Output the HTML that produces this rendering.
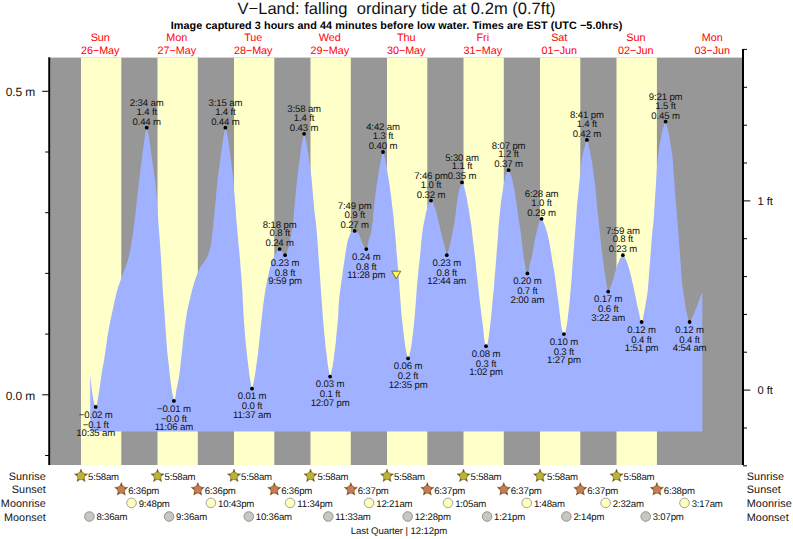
<!DOCTYPE html>
<html><head><meta charset="utf-8"><title>V-Land tide</title>
<style>
html,body{margin:0;padding:0;background:#fff;}
svg{display:block;}
text{font-family:"Liberation Sans",Arial,Helvetica,sans-serif;text-rendering:geometricPrecision;}
.t{font-size:9.6px;letter-spacing:-0.14px;fill:#111;text-anchor:middle;}
.s{font-size:9.6px;letter-spacing:-0.18px;fill:#111;}
.a{font-size:12px;letter-spacing:-0.12px;fill:#111;}
.r{font-size:10.8px;letter-spacing:0.08px;fill:#111;}
.d{font-size:10.8px;letter-spacing:-0.04px;fill:#ff0000;text-anchor:middle;}
</style></head><body>
<svg width="793" height="539" viewBox="0 0 793 539">
<rect width="793" height="539" fill="#fff"/>

<rect x="50" y="57.6" width="692" height="407.4" fill="#979797"/>
<rect x="81.0" y="57.6" width="40.3" height="407.4" fill="#ffffca"/>
<rect x="157.5" y="57.6" width="40.3" height="407.4" fill="#ffffca"/>
<rect x="234.0" y="57.6" width="40.3" height="407.4" fill="#ffffca"/>
<rect x="310.5" y="57.6" width="40.3" height="407.4" fill="#ffffca"/>
<rect x="387.0" y="57.6" width="40.3" height="407.4" fill="#ffffca"/>
<rect x="463.5" y="57.6" width="40.3" height="407.4" fill="#ffffca"/>
<rect x="540.0" y="57.6" width="40.3" height="407.4" fill="#ffffca"/>
<rect x="616.5" y="57.6" width="40.4" height="407.4" fill="#ffffca"/>
<polygon points="90.2,431.4 90.2,374.0 90.6,378.2 91.0,382.2 91.3,385.8 91.7,389.0 92.1,391.9 92.5,394.4 92.9,396.8 93.3,398.8 93.6,400.7 94.0,402.3 94.4,403.7 94.8,404.9 95.2,406.1 95.6,406.8 95.9,406.8 96.3,405.9 96.7,404.6 97.1,403.1 97.5,401.1 97.9,398.9 98.2,396.8 98.6,394.4 99.0,392.0 99.4,389.5 99.8,386.8 100.2,384.1 100.5,381.5 100.9,378.8 101.3,376.1 101.7,373.6 102.1,371.2 102.4,369.0 102.8,366.9 103.2,364.8 103.6,362.7 104.0,360.4 104.4,358.0 104.7,355.5 105.1,352.9 105.5,350.3 105.9,347.6 106.3,345.0 106.7,342.4 107.0,339.8 107.4,337.2 107.8,334.7 108.2,332.2 108.6,330.0 109.0,327.9 109.3,325.9 109.7,324.0 110.1,322.1 110.5,320.2 110.9,318.4 111.3,316.6 111.6,314.8 112.0,313.0 112.4,311.2 112.8,309.5 113.2,307.8 113.6,306.0 113.9,304.2 114.3,302.5 114.7,300.7 115.1,299.0 115.5,297.3 115.8,295.7 116.2,294.1 116.6,292.6 117.0,291.1 117.4,289.8 117.8,288.5 118.1,287.3 118.5,286.1 118.9,285.0 119.3,283.9 119.7,282.8 120.1,281.8 120.4,280.8 120.8,279.7 121.2,278.7 121.6,277.7 122.0,276.6 122.4,275.5 122.7,274.5 123.1,273.5 123.5,272.5 123.9,271.5 124.3,270.5 124.7,269.5 125.0,268.5 125.4,267.5 125.8,266.5 126.2,265.4 126.6,264.3 126.9,263.2 127.3,261.9 127.7,260.7 128.1,259.3 128.5,257.9 128.9,256.3 129.2,254.6 129.6,252.8 130.0,251.0 130.4,249.0 130.8,247.0 131.2,244.9 131.5,242.6 131.9,240.2 132.3,237.6 132.7,234.9 133.1,232.2 133.5,229.3 133.8,226.4 134.2,223.4 134.6,220.3 135.0,217.0 135.4,213.7 135.8,210.3 136.1,206.9 136.5,203.5 136.9,200.0 137.3,196.6 137.7,193.1 138.1,189.7 138.4,186.4 138.8,183.1 139.2,179.9 139.6,176.8 140.0,173.7 140.3,170.6 140.7,167.6 141.1,164.6 141.5,161.6 141.9,158.7 142.3,155.8 142.6,152.8 143.0,149.8 143.4,146.9 143.8,144.1 144.2,141.4 144.6,138.7 144.9,135.9 145.3,133.2 145.7,131.1 146.1,129.2 146.5,127.9 146.9,127.9 147.2,129.1 147.6,130.9 148.0,132.7 148.4,134.5 148.8,136.5 149.2,138.7 149.5,141.0 149.9,143.6 150.3,146.2 150.7,149.2 151.1,152.2 151.4,155.0 151.8,157.6 152.2,160.0 152.6,162.5 153.0,165.2 153.4,168.0 153.7,170.9 154.1,173.7 154.5,176.5 154.9,179.1 155.3,182.3 155.7,186.1 156.0,190.4 156.4,195.0 156.8,200.0 157.2,205.2 157.6,210.6 158.0,216.0 158.3,221.3 158.7,226.6 159.1,231.7 159.5,236.8 159.9,241.9 160.3,247.3 160.6,252.8 161.0,258.8 161.4,265.4 161.8,272.3 162.2,279.2 162.5,285.7 162.9,291.7 163.3,297.0 163.7,302.0 164.1,307.0 164.5,312.1 164.8,317.6 165.2,323.4 165.6,329.2 166.0,334.8 166.4,340.5 166.8,345.9 167.1,350.5 167.5,354.3 167.9,357.7 168.3,361.0 168.7,364.3 169.1,367.4 169.4,370.8 169.8,374.4 170.2,378.0 170.6,381.3 171.0,384.4 171.4,387.2 171.7,389.8 172.1,392.1 172.5,394.0 172.9,395.9 173.3,398.1 173.7,400.4 174.0,400.8 174.4,400.3 174.8,399.5 175.2,398.0 175.6,396.0 175.9,393.3 176.3,390.6 176.7,388.4 177.1,386.5 177.5,384.6 177.9,382.7 178.2,380.9 178.6,379.1 179.0,376.9 179.4,374.2 179.8,371.1 180.2,367.9 180.5,364.5 180.9,360.8 181.3,357.3 181.7,353.8 182.1,350.3 182.5,346.7 182.8,343.1 183.2,339.6 183.6,336.1 184.0,332.9 184.4,329.9 184.8,327.0 185.1,324.2 185.5,321.4 185.9,318.9 186.3,316.4 186.7,314.2 187.0,312.1 187.4,310.1 187.8,308.2 188.2,306.4 188.6,304.7 189.0,303.0 189.3,301.3 189.7,299.7 190.1,298.2 190.5,296.6 190.9,295.0 191.3,293.5 191.6,292.0 192.0,290.5 192.4,289.0 192.8,287.6 193.2,286.2 193.6,284.9 193.9,283.5 194.3,282.3 194.7,281.1 195.1,279.9 195.5,278.8 195.9,277.8 196.2,276.7 196.6,275.7 197.0,274.7 197.4,273.7 197.8,272.8 198.2,271.9 198.5,271.0 198.9,270.2 199.3,269.4 199.7,268.6 200.1,267.8 200.4,267.1 200.8,266.5 201.2,265.8 201.6,265.3 202.0,264.7 202.4,264.2 202.7,263.7 203.1,263.2 203.5,262.7 203.9,262.2 204.3,261.8 204.7,261.2 205.0,260.7 205.4,260.1 205.8,259.5 206.2,258.9 206.6,258.2 207.0,257.4 207.3,256.6 207.7,255.7 208.1,254.7 208.5,253.7 208.9,252.6 209.3,251.4 209.6,250.1 210.0,248.6 210.4,247.0 210.8,245.3 211.2,243.1 211.5,240.2 211.9,236.9 212.3,233.4 212.7,229.9 213.1,226.5 213.5,222.9 213.8,219.1 214.2,215.2 214.6,211.2 215.0,207.1 215.4,203.0 215.8,198.9 216.1,194.8 216.5,190.8 216.9,186.9 217.3,183.2 217.7,179.6 218.1,176.2 218.4,173.1 218.8,170.2 219.2,167.5 219.6,164.7 220.0,161.8 220.4,158.9 220.7,155.9 221.1,153.1 221.5,150.3 221.9,147.7 222.3,145.1 222.6,142.5 223.0,140.1 223.4,137.7 223.8,135.2 224.2,132.8 224.6,130.8 224.9,128.7 225.3,127.7 225.7,128.3 226.1,129.8 226.5,131.7 226.9,133.3 227.2,135.0 227.6,136.9 228.0,139.1 228.4,141.7 228.8,144.6 229.2,147.3 229.5,150.0 229.9,152.7 230.3,155.5 230.7,158.4 231.1,161.3 231.5,164.3 231.8,167.2 232.2,170.1 232.6,173.2 233.0,176.8 233.4,180.7 233.8,185.0 234.1,189.6 234.5,194.5 234.9,199.4 235.3,204.5 235.7,209.6 236.0,214.7 236.4,219.6 236.8,224.4 237.2,229.0 237.6,233.2 238.0,237.4 238.3,241.4 238.7,245.5 239.1,249.7 239.5,254.0 239.9,258.6 240.3,263.3 240.6,268.0 241.0,273.0 241.4,278.1 241.8,283.5 242.2,289.3 242.6,295.8 242.9,303.2 243.3,310.5 243.7,317.1 244.1,322.6 244.5,327.8 244.9,332.7 245.2,337.2 245.6,341.5 246.0,345.4 246.4,349.1 246.8,352.6 247.1,355.9 247.5,359.1 247.9,362.3 248.3,365.6 248.7,368.9 249.1,371.8 249.4,374.7 249.8,377.4 250.2,379.9 250.6,382.1 251.0,384.1 251.4,386.0 251.7,388.1 252.1,388.7 252.5,387.4 252.9,385.4 253.3,383.7 253.7,382.0 254.0,380.2 254.4,378.1 254.8,375.8 255.2,373.4 255.6,370.8 256.0,368.1 256.3,365.3 256.7,362.5 257.1,359.7 257.5,357.0 257.9,354.3 258.2,351.4 258.6,348.0 259.0,344.0 259.4,340.0 259.8,336.2 260.2,332.5 260.5,328.8 260.9,325.2 261.3,321.7 261.7,318.2 262.1,314.8 262.5,311.4 262.8,308.1 263.2,304.9 263.6,301.9 264.0,299.2 264.4,296.5 264.8,294.0 265.1,291.5 265.5,289.2 265.9,286.9 266.3,284.8 266.7,282.7 267.1,280.8 267.4,278.9 267.8,277.2 268.2,275.4 268.6,273.7 269.0,272.1 269.4,270.6 269.7,269.1 270.1,267.6 270.5,266.3 270.9,265.0 271.3,263.8 271.6,262.7 272.0,261.6 272.4,260.6 272.8,259.7 273.2,258.8 273.6,257.9 273.9,257.1 274.3,256.3 274.7,255.5 275.1,254.7 275.5,254.0 275.9,253.3 276.2,252.6 276.6,252.0 277.0,251.4 277.4,250.8 277.8,250.3 278.2,249.9 278.5,249.5 278.9,249.3 279.3,249.2 279.7,249.1 280.1,249.2 280.5,249.4 280.8,249.8 281.2,250.2 281.6,250.8 282.0,251.4 282.4,252.1 282.7,252.8 283.1,253.4 283.5,254.0 283.9,254.5 284.3,254.9 284.7,255.1 285.0,255.2 285.4,255.1 285.8,254.7 286.2,254.3 286.6,253.7 287.0,252.9 287.3,251.8 287.7,250.5 288.1,249.1 288.5,247.4 288.9,245.6 289.3,243.7 289.6,241.9 290.0,240.1 290.4,238.2 290.8,236.3 291.2,234.3 291.6,232.3 291.9,230.4 292.3,228.2 292.7,225.4 293.1,221.9 293.5,217.8 293.9,213.4 294.2,209.0 294.6,204.8 295.0,200.9 295.4,197.0 295.8,193.0 296.1,189.2 296.5,185.4 296.9,181.7 297.3,178.2 297.7,174.8 298.1,171.5 298.4,168.4 298.8,165.3 299.2,162.4 299.6,159.5 300.0,156.7 300.4,153.9 300.7,151.2 301.1,148.3 301.5,145.6 301.9,143.4 302.3,141.5 302.7,139.8 303.0,138.1 303.4,136.2 303.8,134.4 304.2,133.8 304.6,134.6 305.0,136.2 305.3,138.0 305.7,139.8 306.1,141.7 306.5,143.8 306.9,145.8 307.2,147.8 307.6,149.9 308.0,152.2 308.4,154.8 308.8,157.4 309.2,160.1 309.5,162.8 309.9,165.4 310.3,168.2 310.7,171.2 311.1,174.3 311.5,177.7 311.8,181.4 312.2,185.8 312.6,190.6 313.0,195.5 313.4,200.2 313.8,204.5 314.1,208.3 314.5,211.7 314.9,214.9 315.3,218.0 315.7,221.1 316.1,224.5 316.4,228.3 316.8,232.6 317.2,237.4 317.6,242.6 318.0,247.9 318.3,253.2 318.7,258.5 319.1,263.9 319.5,269.5 319.9,275.1 320.3,280.6 320.6,286.1 321.0,291.5 321.4,296.9 321.8,302.3 322.2,307.6 322.6,312.7 322.9,317.5 323.3,322.2 323.7,326.7 324.1,331.0 324.5,335.2 324.9,339.2 325.2,343.0 325.6,346.5 326.0,349.9 326.4,353.1 326.8,356.2 327.2,359.3 327.5,362.4 327.9,365.3 328.3,367.7 328.7,370.0 329.1,372.0 329.5,374.1 329.8,376.0 330.2,376.5 330.6,375.4 331.0,373.5 331.4,371.6 331.7,370.0 332.1,368.4 332.5,366.5 332.9,364.3 333.3,361.7 333.7,358.9 334.0,356.0 334.4,353.2 334.8,350.3 335.2,347.2 335.6,343.8 336.0,339.8 336.3,335.8 336.7,331.9 337.1,328.1 337.5,324.0 337.9,319.6 338.3,314.0 338.6,306.9 339.0,300.8 339.4,296.6 339.8,293.2 340.2,290.2 340.6,287.4 340.9,284.9 341.3,282.3 341.7,279.6 342.1,276.8 342.5,273.9 342.8,271.1 343.2,268.3 343.6,265.6 344.0,262.9 344.4,260.4 344.8,257.9 345.1,255.4 345.5,253.0 345.9,250.5 346.3,248.1 346.7,245.8 347.1,243.7 347.4,241.8 347.8,240.3 348.2,239.1 348.6,238.0 349.0,236.9 349.4,236.0 349.7,235.1 350.1,234.3 350.5,233.6 350.9,233.0 351.3,232.5 351.7,232.2 352.0,231.9 352.4,231.6 352.8,231.4 353.2,231.2 353.6,231.1 354.0,231.0 354.3,230.9 354.7,230.9 355.1,231.0 355.5,231.1 355.9,231.2 356.2,231.4 356.6,231.6 357.0,232.0 357.4,232.4 357.8,232.8 358.2,233.3 358.5,233.8 358.9,234.4 359.3,235.1 359.7,235.9 360.1,236.9 360.5,237.9 360.8,239.0 361.2,240.1 361.6,241.2 362.0,242.2 362.4,243.1 362.8,244.0 363.1,244.9 363.5,245.7 363.9,246.5 364.3,247.2 364.7,247.8 365.1,248.3 365.4,248.6 365.8,248.9 366.2,249.1 366.6,248.9 367.0,248.3 367.3,247.3 367.7,245.6 368.1,243.2 368.5,241.1 368.9,239.6 369.3,238.5 369.6,237.4 370.0,236.4 370.4,235.1 370.8,233.6 371.2,231.8 371.6,229.9 371.9,227.6 372.3,224.8 372.7,221.5 373.1,216.3 373.5,212.1 373.9,208.3 374.2,204.8 374.6,201.5 375.0,198.3 375.4,195.1 375.8,192.0 376.2,189.1 376.5,186.3 376.9,183.8 377.3,181.4 377.7,179.1 378.1,176.7 378.4,174.3 378.8,171.9 379.2,169.5 379.6,167.1 380.0,164.7 380.4,162.6 380.7,160.8 381.1,159.1 381.5,157.6 381.9,155.9 382.3,154.1 382.7,152.5 383.0,152.0 383.4,152.7 383.8,154.0 384.2,155.6 384.6,157.1 385.0,158.6 385.3,160.2 385.7,162.0 386.1,164.1 386.5,166.4 386.9,168.8 387.3,171.1 387.6,173.3 388.0,175.5 388.4,177.8 388.8,180.1 389.2,182.4 389.6,184.9 389.9,187.5 390.3,190.4 390.7,193.4 391.1,196.5 391.5,199.6 391.8,202.8 392.2,206.0 392.6,209.3 393.0,212.6 393.4,216.1 393.8,219.7 394.1,223.4 394.5,227.2 394.9,231.3 395.3,235.7 395.7,240.3 396.1,245.1 396.4,249.9 396.8,254.5 397.2,259.0 397.6,263.4 398.0,267.9 398.4,272.5 398.7,277.2 399.1,282.1 399.5,287.5 399.9,293.2 400.3,298.9 400.7,304.3 401.0,309.2 401.4,313.5 401.8,317.4 402.2,321.0 402.6,324.3 402.9,327.5 403.3,330.7 403.7,334.0 404.1,337.4 404.5,340.5 404.9,343.2 405.2,345.8 405.6,348.2 406.0,350.4 406.4,352.5 406.8,354.3 407.2,355.8 407.5,357.3 407.9,358.2 408.3,358.2 408.7,357.4 409.1,356.1 409.5,354.7 409.8,353.3 410.2,351.6 410.6,349.8 411.0,347.6 411.4,345.1 411.8,342.4 412.1,339.6 412.5,336.8 412.9,333.8 413.3,330.5 413.7,326.9 414.1,322.9 414.4,318.8 414.8,314.5 415.2,310.0 415.6,305.2 416.0,300.0 416.3,294.8 416.7,289.6 417.1,284.7 417.5,280.2 417.9,276.2 418.3,272.4 418.6,268.8 419.0,265.2 419.4,261.7 419.8,258.0 420.2,254.2 420.6,250.2 420.9,246.1 421.3,242.0 421.7,238.1 422.1,234.5 422.5,231.3 422.9,228.6 423.2,226.3 423.6,224.2 424.0,222.3 424.4,220.4 424.8,218.6 425.2,216.7 425.5,214.8 425.9,213.0 426.3,211.3 426.7,209.8 427.1,208.5 427.4,207.4 427.8,206.4 428.2,205.5 428.6,204.6 429.0,203.6 429.4,202.5 429.7,201.7 430.1,201.1 430.5,200.8 430.9,200.6 431.3,200.6 431.7,200.9 432.0,201.2 432.4,201.8 432.8,202.6 433.2,203.5 433.6,204.5 434.0,205.5 434.3,206.4 434.7,207.4 435.1,208.4 435.5,209.4 435.9,210.6 436.3,211.9 436.6,213.5 437.0,215.1 437.4,216.8 437.8,218.5 438.2,220.2 438.5,221.8 438.9,223.4 439.3,225.1 439.7,226.7 440.1,228.2 440.5,229.8 440.8,231.4 441.2,232.9 441.6,234.4 442.0,236.0 442.4,237.5 442.8,239.0 443.1,240.5 443.5,242.0 443.9,243.5 444.3,245.0 444.7,246.5 445.1,248.1 445.4,249.6 445.8,251.2 446.2,253.0 446.6,254.7 447.0,255.1 447.4,254.3 447.7,252.9 448.1,251.6 448.5,250.3 448.9,249.0 449.3,247.5 449.7,246.0 450.0,244.4 450.4,242.8 450.8,241.0 451.2,239.2 451.6,237.3 451.9,235.5 452.3,233.5 452.7,231.5 453.1,229.5 453.5,227.9 453.9,226.3 454.2,224.1 454.6,221.1 455.0,218.0 455.4,215.0 455.8,212.0 456.2,209.0 456.5,206.0 456.9,202.9 457.3,200.0 457.7,197.5 458.1,195.3 458.5,193.3 458.8,191.5 459.2,189.9 459.6,188.6 460.0,187.5 460.4,186.5 460.8,185.6 461.1,184.5 461.5,183.2 461.9,182.4 462.3,182.4 462.7,182.8 463.0,183.4 463.4,184.3 463.8,185.5 464.2,186.9 464.6,188.4 465.0,189.9 465.3,191.5 465.7,193.2 466.1,194.9 466.5,196.8 466.9,198.8 467.3,200.9 467.6,203.0 468.0,205.2 468.4,207.4 468.8,209.7 469.2,212.1 469.6,214.5 469.9,216.9 470.3,219.3 470.7,221.7 471.1,224.2 471.5,227.1 471.9,230.3 472.2,233.6 472.6,237.0 473.0,240.3 473.4,243.4 473.8,246.4 474.2,249.4 474.5,252.5 474.9,255.7 475.3,259.2 475.7,262.9 476.1,266.7 476.4,270.4 476.8,274.0 477.2,277.6 477.6,281.1 478.0,284.6 478.4,288.1 478.7,291.6 479.1,295.1 479.5,298.6 479.9,302.0 480.3,305.4 480.7,308.6 481.0,311.8 481.4,314.9 481.8,317.9 482.2,320.8 482.6,323.5 483.0,326.4 483.3,329.5 483.7,333.3 484.1,337.5 484.5,340.6 484.9,343.1 485.3,344.7 485.6,345.7 486.0,346.2 486.4,346.0 486.8,345.4 487.2,344.5 487.5,343.4 487.9,341.7 488.3,339.6 488.7,337.2 489.1,334.3 489.5,331.1 489.8,328.0 490.2,324.9 490.6,321.5 491.0,318.0 491.4,313.9 491.8,309.4 492.1,305.2 492.5,301.2 492.9,297.4 493.3,293.6 493.7,289.5 494.1,285.1 494.4,280.6 494.8,276.0 495.2,271.2 495.6,266.2 496.0,261.1 496.4,256.2 496.7,251.5 497.1,247.0 497.5,242.2 497.9,237.0 498.3,231.0 498.6,225.6 499.0,221.4 499.4,217.7 499.8,214.0 500.2,210.2 500.6,206.4 500.9,202.9 501.3,199.8 501.7,197.2 502.1,194.8 502.5,192.6 502.9,190.2 503.2,187.7 503.6,185.3 504.0,182.9 504.4,181.0 504.8,179.2 505.2,177.6 505.5,176.1 505.9,174.9 506.3,173.9 506.7,173.0 507.1,172.2 507.5,171.6 507.8,170.9 508.2,170.4 508.6,170.2 509.0,170.6 509.4,171.4 509.8,172.4 510.1,173.3 510.5,174.3 510.9,175.2 511.3,176.3 511.7,177.5 512.0,178.9 512.4,180.5 512.8,182.2 513.2,184.0 513.6,185.9 514.0,187.8 514.3,189.9 514.7,192.1 515.1,194.4 515.5,196.9 515.9,199.5 516.3,202.2 516.6,204.9 517.0,207.6 517.4,210.2 517.8,212.9 518.2,215.5 518.6,217.9 518.9,220.3 519.3,222.8 519.7,225.5 520.1,228.2 520.5,230.9 520.9,233.7 521.2,236.6 521.6,239.6 522.0,242.6 522.4,246.0 522.8,249.4 523.1,252.7 523.5,255.8 523.9,258.4 524.3,260.6 524.7,262.7 525.1,264.9 525.4,267.3 525.8,269.6 526.2,271.3 526.6,272.4 527.0,273.1 527.4,273.4 527.7,273.1 528.1,272.4 528.5,271.1 528.9,269.2 529.3,266.5 529.7,264.4 530.0,262.9 530.4,261.6 530.8,260.4 531.2,259.3 531.6,257.9 532.0,256.3 532.3,254.4 532.7,252.1 533.1,249.8 533.5,247.4 533.9,245.0 534.3,242.8 534.6,240.8 535.0,239.0 535.4,237.3 535.8,235.7 536.2,234.1 536.5,232.6 536.9,231.1 537.3,229.6 537.7,228.1 538.1,226.6 538.5,225.0 538.8,223.6 539.2,222.3 539.6,221.3 540.0,220.4 540.4,219.7 540.8,219.3 541.1,219.0 541.5,218.8 541.9,219.0 542.3,219.6 542.7,220.5 543.1,221.3 543.4,222.1 543.8,223.0 544.2,223.9 544.6,224.8 545.0,225.8 545.4,226.9 545.7,228.0 546.1,229.2 546.5,230.4 546.9,231.7 547.3,233.1 547.6,234.6 548.0,236.3 548.4,237.9 548.8,239.7 549.2,241.6 549.6,243.5 549.9,245.6 550.3,247.9 550.7,250.3 551.1,252.8 551.5,255.4 551.9,257.9 552.2,260.3 552.6,262.5 553.0,264.7 553.4,266.8 553.8,269.0 554.2,271.2 554.5,273.6 554.9,276.1 555.3,278.9 555.7,281.9 556.1,284.9 556.5,287.9 556.8,290.9 557.2,293.6 557.6,296.3 558.0,299.0 558.4,301.8 558.7,304.7 559.1,307.9 559.5,311.5 559.9,315.0 560.3,318.3 560.7,321.6 561.0,324.5 561.4,326.8 561.8,329.0 562.2,330.8 562.6,332.0 563.0,332.9 563.3,333.7 563.7,334.1 564.1,334.0 564.5,333.6 564.9,332.9 565.3,332.0 565.6,330.9 566.0,329.2 566.4,327.2 566.8,325.0 567.2,322.5 567.6,319.5 567.9,316.4 568.3,313.1 568.7,309.7 569.1,306.0 569.5,302.4 569.9,298.6 570.2,294.6 570.6,290.4 571.0,285.8 571.4,280.9 571.8,275.8 572.1,270.5 572.5,265.0 572.9,259.8 573.3,255.2 573.7,250.8 574.1,246.3 574.4,241.3 574.8,236.1 575.2,230.8 575.6,225.5 576.0,220.2 576.4,214.7 576.7,209.5 577.1,204.7 577.5,200.5 577.9,196.7 578.3,193.0 578.7,189.3 579.0,185.6 579.4,181.7 579.8,177.8 580.2,174.1 580.6,170.4 581.0,166.9 581.3,163.8 581.7,160.9 582.1,158.3 582.5,156.0 582.9,154.1 583.2,152.3 583.6,150.7 584.0,149.3 584.4,148.1 584.8,146.9 585.2,145.5 585.5,143.4 585.9,141.7 586.3,140.5 586.7,140.0 587.1,139.9 587.5,140.4 587.8,141.5 588.2,143.2 588.6,145.3 589.0,147.1 589.4,148.7 589.8,150.3 590.1,152.1 590.5,154.1 590.9,156.3 591.3,158.5 591.7,160.7 592.1,163.0 592.4,165.3 592.8,167.8 593.2,170.6 593.6,173.5 594.0,176.4 594.3,179.2 594.7,182.0 595.1,185.1 595.5,188.8 595.9,192.8 596.3,197.1 596.6,201.3 597.0,205.3 597.4,209.0 597.8,212.6 598.2,216.2 598.6,219.9 598.9,223.8 599.3,227.8 599.7,231.8 600.1,235.5 600.5,239.1 600.9,242.4 601.2,245.7 601.6,248.9 602.0,252.0 602.4,255.0 602.8,258.0 603.2,261.1 603.5,264.3 603.9,267.4 604.3,270.2 604.7,272.7 605.1,275.0 605.5,277.2 605.8,279.4 606.2,281.8 606.6,284.5 607.0,287.0 607.4,288.9 607.7,290.5 608.1,291.6 608.5,291.4 608.9,290.7 609.3,289.9 609.7,289.1 610.0,288.2 610.4,287.2 610.8,286.2 611.2,285.2 611.6,284.1 612.0,283.0 612.3,281.9 612.7,280.7 613.1,279.5 613.5,278.2 613.9,276.9 614.3,275.5 614.6,274.0 615.0,272.6 615.4,271.2 615.8,269.8 616.2,268.6 616.6,267.3 616.9,266.1 617.3,265.0 617.7,264.0 618.1,263.1 618.5,262.3 618.8,261.4 619.2,260.5 619.6,259.6 620.0,258.8 620.4,258.0 620.8,257.4 621.1,256.8 621.5,256.3 621.9,255.9 622.3,255.5 622.7,255.3 623.1,255.2 623.4,255.5 623.8,256.1 624.2,256.6 624.6,257.2 625.0,258.0 625.4,258.7 625.7,259.5 626.1,260.2 626.5,261.0 626.9,262.0 627.3,263.0 627.7,264.1 628.0,265.2 628.4,266.5 628.8,267.7 629.2,269.0 629.6,270.4 630.0,271.8 630.3,273.3 630.7,274.8 631.1,276.4 631.5,278.0 631.9,279.7 632.2,281.4 632.6,283.1 633.0,284.7 633.4,286.4 633.8,288.1 634.2,289.9 634.5,291.6 634.9,293.4 635.3,295.2 635.7,297.2 636.1,299.1 636.5,301.2 636.8,303.1 637.2,305.0 637.6,306.8 638.0,308.4 638.4,310.0 638.8,311.6 639.1,313.3 639.5,315.2 639.9,317.5 640.3,319.3 640.7,320.6 641.1,321.4 641.4,321.9 641.8,321.9 642.2,321.4 642.6,320.5 643.0,318.9 643.3,316.8 643.7,314.4 644.1,312.3 644.5,310.3 644.9,308.2 645.3,306.2 645.6,304.0 646.0,301.8 646.4,299.6 646.8,297.2 647.2,294.7 647.6,292.2 647.9,289.1 648.3,284.4 648.7,278.4 649.1,273.1 649.5,268.2 649.9,263.5 650.2,258.6 650.6,253.8 651.0,248.9 651.4,243.8 651.8,238.0 652.2,233.4 652.5,230.1 652.9,227.3 653.3,224.1 653.7,219.7 654.1,213.7 654.4,207.7 654.8,201.5 655.2,195.3 655.6,189.1 656.0,182.9 656.4,176.7 656.7,171.0 657.1,165.8 657.5,161.0 657.9,157.1 658.3,154.1 658.7,151.4 659.0,148.9 659.4,146.4 659.8,144.0 660.2,141.7 660.6,139.5 661.0,137.4 661.3,135.4 661.7,133.5 662.1,131.7 662.5,130.2 662.9,128.8 663.3,127.6 663.6,126.4 664.0,125.3 664.4,124.2 664.8,123.0 665.2,122.0 665.6,121.7 665.9,122.3 666.3,123.8 666.7,125.4 667.1,126.7 667.5,128.1 667.8,129.6 668.2,131.2 668.6,133.0 669.0,135.2 669.4,137.4 669.8,139.6 670.1,141.9 670.5,144.3 670.9,146.7 671.3,149.1 671.7,151.4 672.1,153.8 672.4,156.6 672.8,160.3 673.2,165.3 673.6,170.9 674.0,176.4 674.4,181.9 674.7,187.4 675.1,192.7 675.5,197.8 675.9,202.6 676.3,207.3 676.7,211.7 677.0,215.8 677.4,219.9 677.8,224.5 678.2,229.4 678.6,234.5 678.9,239.7 679.3,245.0 679.7,250.4 680.1,255.7 680.5,261.0 680.9,266.3 681.2,271.8 681.6,277.3 682.0,282.1 682.4,285.8 682.8,288.7 683.2,291.2 683.5,293.5 683.9,296.1 684.3,298.8 684.7,301.5 685.1,304.0 685.5,306.3 685.8,308.4 686.2,310.4 686.6,312.3 687.0,314.1 687.4,315.9 687.8,317.8 688.1,319.3 688.5,320.6 688.9,321.3 689.3,321.8 689.7,322.0 690.1,321.8 690.4,321.4 690.8,320.7 691.2,319.7 691.6,318.8 692.0,317.9 692.3,317.1 692.7,316.3 693.1,315.5 693.5,314.6 693.9,313.7 694.3,312.8 694.6,311.9 695.0,311.0 695.4,310.1 695.8,309.2 696.2,308.2 696.6,307.3 696.9,306.2 697.3,305.2 697.7,304.2 698.1,303.1 698.5,302.0 698.9,301.0 699.2,299.9 699.6,298.9 700.0,297.8 700.4,296.8 700.8,295.8 701.2,295.0 701.5,294.2 701.9,293.4 702.3,292.7 702.3,431.4" fill="#a0b2ff"/>
<g stroke="#000" stroke-width="2" fill="none">
<line x1="49.2" y1="57.2" x2="49.2" y2="465" stroke-width="1.9"/>
<line x1="743" y1="49" x2="743" y2="465"/>
</g><g stroke="#000" stroke-width="1" fill="none">
<line x1="45.2" y1="455.5" x2="49" y2="455.5"/>
<line x1="42.2" y1="394.8" x2="49" y2="394.8"/>
<line x1="45.2" y1="334.1" x2="49" y2="334.1"/>
<line x1="45.2" y1="273.4" x2="49" y2="273.4"/>
<line x1="45.2" y1="212.7" x2="49" y2="212.7"/>
<line x1="45.2" y1="152.0" x2="49" y2="152.0"/>
<line x1="42.2" y1="91.3" x2="49" y2="91.3"/>
<line x1="743" y1="465.8" x2="747" y2="465.8"/>
<line x1="743" y1="428.0" x2="747" y2="428.0"/>
<line x1="743" y1="390.1" x2="750.3" y2="390.1"/>
<line x1="743" y1="352.2" x2="747" y2="352.2"/>
<line x1="743" y1="314.4" x2="747" y2="314.4"/>
<line x1="743" y1="276.6" x2="747" y2="276.6"/>
<line x1="743" y1="238.7" x2="747" y2="238.7"/>
<line x1="743" y1="200.9" x2="750.3" y2="200.9"/>
<line x1="743" y1="163.0" x2="747" y2="163.0"/>
<line x1="743" y1="125.2" x2="747" y2="125.2"/>
<line x1="743" y1="87.3" x2="747" y2="87.3"/>
<line x1="743" y1="49.4" x2="747" y2="49.4"/>
</g>
<text class="a" x="5.8" y="96.0">0.5 m</text>
<text class="a" x="5.8" y="399.5">0.0 m</text>
<text class="a" x="757.6" y="205.0" style="font-size:11.2px">1 ft</text>
<text class="a" x="757.6" y="394.2" style="font-size:11.2px">0 ft</text>
<text x="396.5" y="14.4" text-anchor="middle" style="font-size:16.5px;fill:#111" textLength="318" xml:space="preserve">V−Land: falling  ordinary tide at 0.2m (0.7ft)</text>
<text x="396.5" y="28.6" text-anchor="middle" style="font-size:10.8px;font-weight:bold;fill:#000" textLength="451.5">Image captured 3 hours and 44 minutes before low water. Times are EST (UTC −5.0hrs)</text>
<text class="d" x="100.2" y="41.2">Sun</text>
<text class="d" x="100.2" y="54.1">26−May</text>
<text class="d" x="176.8" y="41.2">Mon</text>
<text class="d" x="176.8" y="54.1">27−May</text>
<text class="d" x="253.2" y="41.2">Tue</text>
<text class="d" x="253.2" y="54.1">28−May</text>
<text class="d" x="329.8" y="41.2">Wed</text>
<text class="d" x="329.8" y="54.1">29−May</text>
<text class="d" x="406.2" y="41.2">Thu</text>
<text class="d" x="406.2" y="54.1">30−May</text>
<text class="d" x="482.8" y="41.2">Fri</text>
<text class="d" x="482.8" y="54.1">31−May</text>
<text class="d" x="559.2" y="41.2">Sat</text>
<text class="d" x="559.2" y="54.1">01−Jun</text>
<text class="d" x="635.8" y="41.2">Sun</text>
<text class="d" x="635.8" y="54.1">02−Jun</text>
<text class="d" x="712.2" y="41.2">Mon</text>
<text class="d" x="712.2" y="54.1">03−Jun</text>
<circle cx="95.7" cy="406.9" r="1.9" fill="#000"/>
<text class="t" x="95.7" y="417.6">−0.02 m</text>
<text class="t" x="95.7" y="427.6">−0.1 ft</text>
<text class="t" x="95.7" y="436.0">10:35 am</text>
<circle cx="146.7" cy="127.7" r="1.9" fill="#000"/>
<text class="t" x="146.7" y="106.1">2:34 am</text>
<text class="t" x="146.7" y="114.7">1.4 ft</text>
<text class="t" x="146.7" y="124.6">0.44 m</text>
<circle cx="173.9" cy="400.9" r="1.9" fill="#000"/>
<text class="t" x="173.9" y="411.6">−0.01 m</text>
<text class="t" x="173.9" y="421.6">−0.0 ft</text>
<text class="t" x="173.9" y="430.0">11:06 am</text>
<circle cx="225.4" cy="127.7" r="1.9" fill="#000"/>
<text class="t" x="225.4" y="106.1">3:15 am</text>
<text class="t" x="225.4" y="114.7">1.4 ft</text>
<text class="t" x="225.4" y="124.6">0.44 m</text>
<circle cx="252.0" cy="388.7" r="1.9" fill="#000"/>
<text class="t" x="252.0" y="399.4">0.01 m</text>
<text class="t" x="252.0" y="409.4">0.0 ft</text>
<text class="t" x="252.0" y="417.8">11:37 am</text>
<circle cx="279.7" cy="249.1" r="1.9" fill="#000"/>
<text class="t" x="279.7" y="227.5">8:18 pm</text>
<text class="t" x="279.7" y="236.1">0.8 ft</text>
<text class="t" x="279.7" y="246.0">0.24 m</text>
<circle cx="285.1" cy="255.2" r="1.9" fill="#000"/>
<text class="t" x="285.1" y="265.9">0.23 m</text>
<text class="t" x="285.1" y="275.9">0.8 ft</text>
<text class="t" x="285.1" y="284.3">9:59 pm</text>
<circle cx="304.1" cy="133.8" r="1.9" fill="#000"/>
<text class="t" x="304.1" y="112.2">3:58 am</text>
<text class="t" x="304.1" y="120.8">1.4 ft</text>
<text class="t" x="304.1" y="130.7">0.43 m</text>
<circle cx="330.1" cy="376.6" r="1.9" fill="#000"/>
<text class="t" x="330.1" y="387.3">0.03 m</text>
<text class="t" x="330.1" y="397.3">0.1 ft</text>
<text class="t" x="330.1" y="405.7">12:07 pm</text>
<circle cx="354.7" cy="230.9" r="1.9" fill="#000"/>
<text class="t" x="354.7" y="209.3">7:49 pm</text>
<text class="t" x="354.7" y="217.9">0.9 ft</text>
<text class="t" x="354.7" y="227.8">0.27 m</text>
<circle cx="366.3" cy="249.1" r="1.9" fill="#000"/>
<text class="t" x="366.3" y="259.8">0.24 m</text>
<text class="t" x="366.3" y="269.8">0.8 ft</text>
<text class="t" x="366.3" y="278.2">11:28 pm</text>
<circle cx="383.0" cy="152.0" r="1.9" fill="#000"/>
<text class="t" x="383.0" y="130.4">4:42 am</text>
<text class="t" x="383.0" y="139.0">1.3 ft</text>
<text class="t" x="383.0" y="148.9">0.40 m</text>
<circle cx="408.1" cy="358.4" r="1.9" fill="#000"/>
<text class="t" x="408.1" y="369.1">0.06 m</text>
<text class="t" x="408.1" y="379.1">0.2 ft</text>
<text class="t" x="408.1" y="387.5">12:35 pm</text>
<circle cx="431.0" cy="200.6" r="1.9" fill="#000"/>
<text class="t" x="431.0" y="179.0">7:46 pm</text>
<text class="t" x="431.0" y="187.6">1.0 ft</text>
<text class="t" x="431.0" y="197.5">0.32 m</text>
<circle cx="446.8" cy="255.2" r="1.9" fill="#000"/>
<text class="t" x="446.8" y="265.9">0.23 m</text>
<text class="t" x="446.8" y="275.9">0.8 ft</text>
<text class="t" x="446.8" y="284.3">12:44 am</text>
<circle cx="462.0" cy="182.4" r="1.9" fill="#000"/>
<text class="t" x="462.0" y="160.8">5:30 am</text>
<text class="t" x="462.0" y="169.4">1.1 ft</text>
<text class="t" x="462.0" y="179.3">0.35 m</text>
<circle cx="486.0" cy="346.2" r="1.9" fill="#000"/>
<text class="t" x="486.0" y="356.9">0.08 m</text>
<text class="t" x="486.0" y="366.9">0.3 ft</text>
<text class="t" x="486.0" y="375.3">1:02 pm</text>
<circle cx="508.6" cy="170.2" r="1.9" fill="#000"/>
<text class="t" x="508.6" y="148.6">8:07 pm</text>
<text class="t" x="508.6" y="157.2">1.2 ft</text>
<text class="t" x="508.6" y="167.1">0.37 m</text>
<circle cx="527.4" cy="273.4" r="1.9" fill="#000"/>
<text class="t" x="527.4" y="284.1">0.20 m</text>
<text class="t" x="527.4" y="294.1">0.7 ft</text>
<text class="t" x="527.4" y="302.5">2:00 am</text>
<circle cx="541.6" cy="218.8" r="1.9" fill="#000"/>
<text class="t" x="541.6" y="197.2">6:28 am</text>
<text class="t" x="541.6" y="205.8">1.0 ft</text>
<text class="t" x="541.6" y="215.7">0.29 m</text>
<circle cx="563.9" cy="334.1" r="1.9" fill="#000"/>
<text class="t" x="563.9" y="344.8">0.10 m</text>
<text class="t" x="563.9" y="354.8">0.3 ft</text>
<text class="t" x="563.9" y="363.2">1:27 pm</text>
<circle cx="586.9" cy="139.9" r="1.9" fill="#000"/>
<text class="t" x="586.9" y="118.3">8:41 pm</text>
<text class="t" x="586.9" y="126.9">1.4 ft</text>
<text class="t" x="586.9" y="136.8">0.42 m</text>
<circle cx="608.2" cy="291.6" r="1.9" fill="#000"/>
<text class="t" x="608.2" y="302.3">0.17 m</text>
<text class="t" x="608.2" y="312.3">0.6 ft</text>
<text class="t" x="608.2" y="320.7">3:22 am</text>
<circle cx="622.9" cy="255.2" r="1.9" fill="#000"/>
<text class="t" x="622.9" y="233.6">7:59 am</text>
<text class="t" x="622.9" y="242.2">0.8 ft</text>
<text class="t" x="622.9" y="252.1">0.23 m</text>
<circle cx="641.6" cy="322.0" r="1.9" fill="#000"/>
<text class="t" x="641.6" y="332.7">0.12 m</text>
<text class="t" x="641.6" y="342.7">0.4 ft</text>
<text class="t" x="641.6" y="351.1">1:51 pm</text>
<circle cx="665.6" cy="121.6" r="1.9" fill="#000"/>
<text class="t" x="665.6" y="100.0">9:21 pm</text>
<text class="t" x="665.6" y="108.6">1.5 ft</text>
<text class="t" x="665.6" y="118.5">0.45 m</text>
<circle cx="689.6" cy="322.0" r="1.9" fill="#000"/>
<text class="t" x="689.6" y="332.7">0.12 m</text>
<text class="t" x="689.6" y="342.7">0.4 ft</text>
<text class="t" x="689.6" y="351.1">4:54 am</text>
<polygon points="391.7,271.2 400.8,271.2 396.2,278.7" fill="#ffff4d" stroke="#6b5200" stroke-width="0.8"/>
<text class="r" x="45.9" y="479.6" text-anchor="end">Sunrise</text>
<text class="r" x="746.8" y="479.6">Sunrise</text>
<text class="r" x="45.9" y="493.4" text-anchor="end">Sunset</text>
<text class="r" x="746.8" y="493.4">Sunset</text>
<text class="r" x="45.9" y="507.1" text-anchor="end">Moonrise</text>
<text class="r" x="746.8" y="507.1">Moonrise</text>
<text class="r" x="45.9" y="520.9" text-anchor="end">Moonset</text>
<text class="r" x="746.8" y="520.9">Moonset</text>
<polygon points="81.0,469.1 82.7,473.7 87.6,473.9 83.8,476.9 85.1,481.6 81.0,478.9 77.0,481.6 78.3,476.9 74.5,473.9 79.3,473.7" fill="#6e5810" stroke="#6e5810" stroke-width="0.45" stroke-linejoin="miter"/><circle cx="81.0" cy="476.0" r="3.9" fill="#b9b23c" stroke="#6e5810" stroke-width="0.5" stroke-opacity="0.6"/>
<text class="s" x="88.0" y="479.5">5:58am</text>
<polygon points="157.5,469.1 159.2,473.7 164.1,473.9 160.3,476.9 161.6,481.6 157.5,478.9 153.5,481.6 154.8,476.9 151.0,473.9 155.8,473.7" fill="#6e5810" stroke="#6e5810" stroke-width="0.45" stroke-linejoin="miter"/><circle cx="157.5" cy="476.0" r="3.9" fill="#b9b23c" stroke="#6e5810" stroke-width="0.5" stroke-opacity="0.6"/>
<text class="s" x="164.5" y="479.5">5:58am</text>
<polygon points="234.0,469.1 235.7,473.7 240.6,473.9 236.8,476.9 238.1,481.6 234.0,478.9 230.0,481.6 231.3,476.9 227.5,473.9 232.3,473.7" fill="#6e5810" stroke="#6e5810" stroke-width="0.45" stroke-linejoin="miter"/><circle cx="234.0" cy="476.0" r="3.9" fill="#b9b23c" stroke="#6e5810" stroke-width="0.5" stroke-opacity="0.6"/>
<text class="s" x="241.0" y="479.5">5:58am</text>
<polygon points="310.5,469.1 312.2,473.7 317.1,473.9 313.3,476.9 314.6,481.6 310.5,478.9 306.5,481.6 307.8,476.9 304.0,473.9 308.8,473.7" fill="#6e5810" stroke="#6e5810" stroke-width="0.45" stroke-linejoin="miter"/><circle cx="310.5" cy="476.0" r="3.9" fill="#b9b23c" stroke="#6e5810" stroke-width="0.5" stroke-opacity="0.6"/>
<text class="s" x="317.5" y="479.5">5:58am</text>
<polygon points="387.0,469.1 388.7,473.7 393.6,473.9 389.8,476.9 391.1,481.6 387.0,478.9 383.0,481.6 384.3,476.9 380.5,473.9 385.3,473.7" fill="#6e5810" stroke="#6e5810" stroke-width="0.45" stroke-linejoin="miter"/><circle cx="387.0" cy="476.0" r="3.9" fill="#b9b23c" stroke="#6e5810" stroke-width="0.5" stroke-opacity="0.6"/>
<text class="s" x="394.0" y="479.5">5:58am</text>
<polygon points="463.5,469.1 465.2,473.7 470.1,473.9 466.3,476.9 467.6,481.6 463.5,478.9 459.5,481.6 460.8,476.9 457.0,473.9 461.8,473.7" fill="#6e5810" stroke="#6e5810" stroke-width="0.45" stroke-linejoin="miter"/><circle cx="463.5" cy="476.0" r="3.9" fill="#b9b23c" stroke="#6e5810" stroke-width="0.5" stroke-opacity="0.6"/>
<text class="s" x="470.5" y="479.5">5:58am</text>
<polygon points="540.0,469.1 541.7,473.7 546.6,473.9 542.8,476.9 544.1,481.6 540.0,478.9 536.0,481.6 537.3,476.9 533.5,473.9 538.3,473.7" fill="#6e5810" stroke="#6e5810" stroke-width="0.45" stroke-linejoin="miter"/><circle cx="540.0" cy="476.0" r="3.9" fill="#b9b23c" stroke="#6e5810" stroke-width="0.5" stroke-opacity="0.6"/>
<text class="s" x="547.0" y="479.5">5:58am</text>
<polygon points="616.5,469.1 618.2,473.7 623.1,473.9 619.3,476.9 620.6,481.6 616.5,478.9 612.5,481.6 613.8,476.9 610.0,473.9 614.8,473.7" fill="#6e5810" stroke="#6e5810" stroke-width="0.45" stroke-linejoin="miter"/><circle cx="616.5" cy="476.0" r="3.9" fill="#b9b23c" stroke="#6e5810" stroke-width="0.5" stroke-opacity="0.6"/>
<text class="s" x="623.5" y="479.5">5:58am</text>
<polygon points="121.3,482.6 123.0,487.2 127.8,487.4 124.0,490.4 125.3,495.1 121.3,492.4 117.2,495.1 118.5,490.4 114.7,487.4 119.6,487.2" fill="#6e4e10" stroke="#6e4e10" stroke-width="0.45" stroke-linejoin="miter"/><circle cx="121.3" cy="489.5" r="3.9" fill="#c77a58" stroke="#6e4e10" stroke-width="0.5" stroke-opacity="0.6"/>
<text class="s" x="128.2" y="493.5">6:36pm</text>
<polygon points="197.8,482.6 199.5,487.2 204.3,487.4 200.5,490.4 201.8,495.1 197.8,492.4 193.7,495.1 195.0,490.4 191.2,487.4 196.1,487.2" fill="#6e4e10" stroke="#6e4e10" stroke-width="0.45" stroke-linejoin="miter"/><circle cx="197.8" cy="489.5" r="3.9" fill="#c77a58" stroke="#6e4e10" stroke-width="0.5" stroke-opacity="0.6"/>
<text class="s" x="204.7" y="493.5">6:36pm</text>
<polygon points="274.3,482.6 276.0,487.2 280.8,487.4 277.0,490.4 278.3,495.1 274.3,492.4 270.2,495.1 271.5,490.4 267.7,487.4 272.6,487.2" fill="#6e4e10" stroke="#6e4e10" stroke-width="0.45" stroke-linejoin="miter"/><circle cx="274.3" cy="489.5" r="3.9" fill="#c77a58" stroke="#6e4e10" stroke-width="0.5" stroke-opacity="0.6"/>
<text class="s" x="281.2" y="493.5">6:36pm</text>
<polygon points="350.8,482.6 352.5,487.2 357.4,487.4 353.6,490.4 354.9,495.1 350.8,492.4 346.8,495.1 348.1,490.4 344.3,487.4 349.1,487.2" fill="#6e4e10" stroke="#6e4e10" stroke-width="0.45" stroke-linejoin="miter"/><circle cx="350.8" cy="489.5" r="3.9" fill="#c77a58" stroke="#6e4e10" stroke-width="0.5" stroke-opacity="0.6"/>
<text class="s" x="357.7" y="493.5">6:37pm</text>
<polygon points="427.3,482.6 429.0,487.2 433.9,487.4 430.1,490.4 431.4,495.1 427.3,492.4 423.3,495.1 424.6,490.4 420.8,487.4 425.6,487.2" fill="#6e4e10" stroke="#6e4e10" stroke-width="0.45" stroke-linejoin="miter"/><circle cx="427.3" cy="489.5" r="3.9" fill="#c77a58" stroke="#6e4e10" stroke-width="0.5" stroke-opacity="0.6"/>
<text class="s" x="434.2" y="493.5">6:37pm</text>
<polygon points="503.8,482.6 505.5,487.2 510.4,487.4 506.6,490.4 507.9,495.1 503.8,492.4 499.8,495.1 501.1,490.4 497.3,487.4 502.1,487.2" fill="#6e4e10" stroke="#6e4e10" stroke-width="0.45" stroke-linejoin="miter"/><circle cx="503.8" cy="489.5" r="3.9" fill="#c77a58" stroke="#6e4e10" stroke-width="0.5" stroke-opacity="0.6"/>
<text class="s" x="510.7" y="493.5">6:37pm</text>
<polygon points="580.3,482.6 582.0,487.2 586.9,487.4 583.1,490.4 584.4,495.1 580.3,492.4 576.3,495.1 577.6,490.4 573.8,487.4 578.6,487.2" fill="#6e4e10" stroke="#6e4e10" stroke-width="0.45" stroke-linejoin="miter"/><circle cx="580.3" cy="489.5" r="3.9" fill="#c77a58" stroke="#6e4e10" stroke-width="0.5" stroke-opacity="0.6"/>
<text class="s" x="587.2" y="493.5">6:37pm</text>
<polygon points="656.9,482.6 658.6,487.2 663.5,487.4 659.7,490.4 660.9,495.1 656.9,492.4 652.8,495.1 654.1,490.4 650.3,487.4 655.2,487.2" fill="#6e4e10" stroke="#6e4e10" stroke-width="0.45" stroke-linejoin="miter"/><circle cx="656.9" cy="489.5" r="3.9" fill="#c77a58" stroke="#6e4e10" stroke-width="0.5" stroke-opacity="0.6"/>
<text class="s" x="663.8" y="493.5">6:38pm</text>
<circle cx="131.5" cy="502.9" r="4.8" fill="#ffffc0" stroke="#8c8c8c" stroke-width="0.8"/>
<text class="s" x="138.7" y="507.1">9:48pm</text>
<circle cx="210.9" cy="502.9" r="4.8" fill="#ffffc0" stroke="#8c8c8c" stroke-width="0.8"/>
<text class="s" x="218.1" y="507.1">10:43pm</text>
<circle cx="290.1" cy="502.9" r="4.8" fill="#ffffc0" stroke="#8c8c8c" stroke-width="0.8"/>
<text class="s" x="297.3" y="507.1">11:34pm</text>
<circle cx="369.1" cy="502.9" r="4.8" fill="#ffffc0" stroke="#8c8c8c" stroke-width="0.8"/>
<text class="s" x="376.3" y="507.1">12:21am</text>
<circle cx="448.0" cy="502.9" r="4.8" fill="#ffffc0" stroke="#8c8c8c" stroke-width="0.8"/>
<text class="s" x="455.2" y="507.1">1:05am</text>
<circle cx="526.7" cy="502.9" r="4.8" fill="#ffffc0" stroke="#8c8c8c" stroke-width="0.8"/>
<text class="s" x="533.9" y="507.1">1:48am</text>
<circle cx="605.6" cy="502.9" r="4.8" fill="#ffffc0" stroke="#8c8c8c" stroke-width="0.8"/>
<text class="s" x="612.8" y="507.1">2:32am</text>
<circle cx="684.5" cy="502.9" r="4.8" fill="#ffffc0" stroke="#8c8c8c" stroke-width="0.8"/>
<text class="s" x="691.7" y="507.1">3:17am</text>
<circle cx="89.4" cy="516.5" r="4.8" fill="#c8c8c0" stroke="#808080" stroke-width="0.8"/>
<text class="s" x="96.4" y="520.0">8:36am</text>
<circle cx="169.1" cy="516.5" r="4.8" fill="#c8c8c0" stroke="#808080" stroke-width="0.8"/>
<text class="s" x="176.1" y="520.0">9:36am</text>
<circle cx="248.8" cy="516.5" r="4.8" fill="#c8c8c0" stroke="#808080" stroke-width="0.8"/>
<text class="s" x="255.8" y="520.0">10:36am</text>
<circle cx="328.3" cy="516.5" r="4.8" fill="#c8c8c0" stroke="#808080" stroke-width="0.8"/>
<text class="s" x="335.3" y="520.0">11:33am</text>
<circle cx="407.7" cy="516.5" r="4.8" fill="#c8c8c0" stroke="#808080" stroke-width="0.8"/>
<text class="s" x="414.7" y="520.0">12:28pm</text>
<circle cx="487.1" cy="516.5" r="4.8" fill="#c8c8c0" stroke="#808080" stroke-width="0.8"/>
<text class="s" x="494.1" y="520.0">1:21pm</text>
<circle cx="566.4" cy="516.5" r="4.8" fill="#c8c8c0" stroke="#808080" stroke-width="0.8"/>
<text class="s" x="573.4" y="520.0">2:14pm</text>
<circle cx="645.7" cy="516.5" r="4.8" fill="#c8c8c0" stroke="#808080" stroke-width="0.8"/>
<text class="s" x="652.7" y="520.0">3:07pm</text>
<text class="s" x="350.7" y="533.8" textLength="96.6" style="letter-spacing:0">Last Quarter | 12:12pm</text>
</svg></body></html>
